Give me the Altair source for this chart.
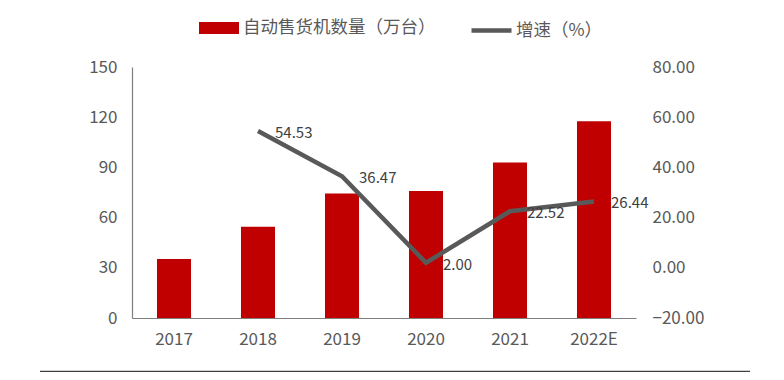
import altair as alt
import pandas as pd

years = ["2017", "2018", "2019", "2020", "2021", "2022E"]
machines = [35.3, 54.5, 74.4, 75.9, 93.0, 117.6]
growth_years = ["2018", "2019", "2020", "2021", "2022E"]
growth = [54.53, 36.47, 2.00, 22.52, 26.44]
left_ticks = [0, 30, 60, 90, 120, 150]
right_ticks = [-20, 0, 20, 40, 60, 80]

bar_name = "自动售货机数量（万台）"
line_name = "增速（%）"

FONT = "Noto Sans CJK SC"
TXT = "#595959"

bars_df = pd.DataFrame({"year": years, "value": machines, "s": bar_name})
line_df = pd.DataFrame({"year": growth_years, "g": growth, "s": line_name})

xenc = alt.X("year:N", sort=years, title=None,
             scale=alt.Scale(paddingInner=0.595, paddingOuter=0.2975),
             axis=alt.Axis(labelAngle=0, ticks=False, labelPadding=13,
                           labelFontSize=17, labelColor=TXT, labelFont=FONT,
                           domainColor="#7f7f7f", domainWidth=1.2))

bars = alt.Chart(bars_df).mark_bar(color="#C00000").encode(
    x=xenc,
    y=alt.Y("value:Q", title=None,
            scale=alt.Scale(domain=[0, 150], nice=False),
            axis=alt.Axis(values=left_ticks, ticks=False, grid=False, labelPadding=15,
                          labelFontSize=17, labelColor=TXT, labelFont=FONT,
                          domainColor="#7f7f7f", domainWidth=1.2)),
    fill=alt.Fill("s:N", scale=alt.Scale(domain=[bar_name], range=["#C00000"]),
                  legend=alt.Legend(title=None, orient="none", legendX=67, legendY=-59,
                                    symbolType="M-1,-0.3H1V0.3H-1Z", symbolSize=1600,
                                    symbolStrokeWidth=0, labelFontSize=17.5, labelColor=TXT,
                                    labelFont=FONT, labelOffset=4, padding=0,
                                    labelLimit=400)),
)

line = alt.Chart(line_df).mark_line(strokeWidth=4.5, color="#595959").encode(
    x=alt.X("year:N", sort=years),
    y=alt.Y("g:Q", title=None,
            scale=alt.Scale(domain=[-20, 80], nice=False),
            axis=alt.Axis(values=right_ticks, format=".2f", orient="right", ticks=False,
                          grid=False, domain=False, labelPadding=16,
                          labelFontSize=17, labelColor=TXT, labelFont=FONT)),
    stroke=alt.Stroke("s:N", scale=alt.Scale(domain=[line_name], range=["#595959"]),
                      legend=alt.Legend(title=None, orient="none", legendX=337, legendY=-59,
                                        symbolType="stroke", symbolSize=1600,
                                        symbolStrokeWidth=4.5, labelFontSize=17.5,
                                        labelColor=TXT, labelFont=FONT, labelOffset=2,
                                        padding=0, labelLimit=400)),
)

labels = alt.Chart(line_df).mark_text(align="left", baseline="middle", dx=17, dy=2,
                                      fontSize=15, font=FONT, color="#404040").encode(
    x=alt.X("year:N", sort=years),
    y=alt.Y("g:Q", scale=alt.Scale(domain=[-20, 80], nice=False), axis=None),
    text=alt.Text("g:Q", format=".2f"),
)

sep = alt.Chart(pd.DataFrame({"k": [0]})).mark_rule(color="#404040", strokeWidth=2.5).encode(
    x=alt.value(-92), x2=alt.value(618), y=alt.value(305)
)

chart = alt.layer(bars, line, labels, sep).resolve_scale(y="independent").properties(
    width=504, height=251,
    background="white",
    view=alt.ViewBackground(stroke="transparent", strokeOpacity=0),
    autosize=alt.AutoSizeParams(type="none"),
    padding={"left": 124, "top": 59, "right": 140, "bottom": 54},
).configure_view(stroke="#ffffff", strokeOpacity=0)

chart.save("out.html", embed_options={"renderer": "svg", "actions": False})
